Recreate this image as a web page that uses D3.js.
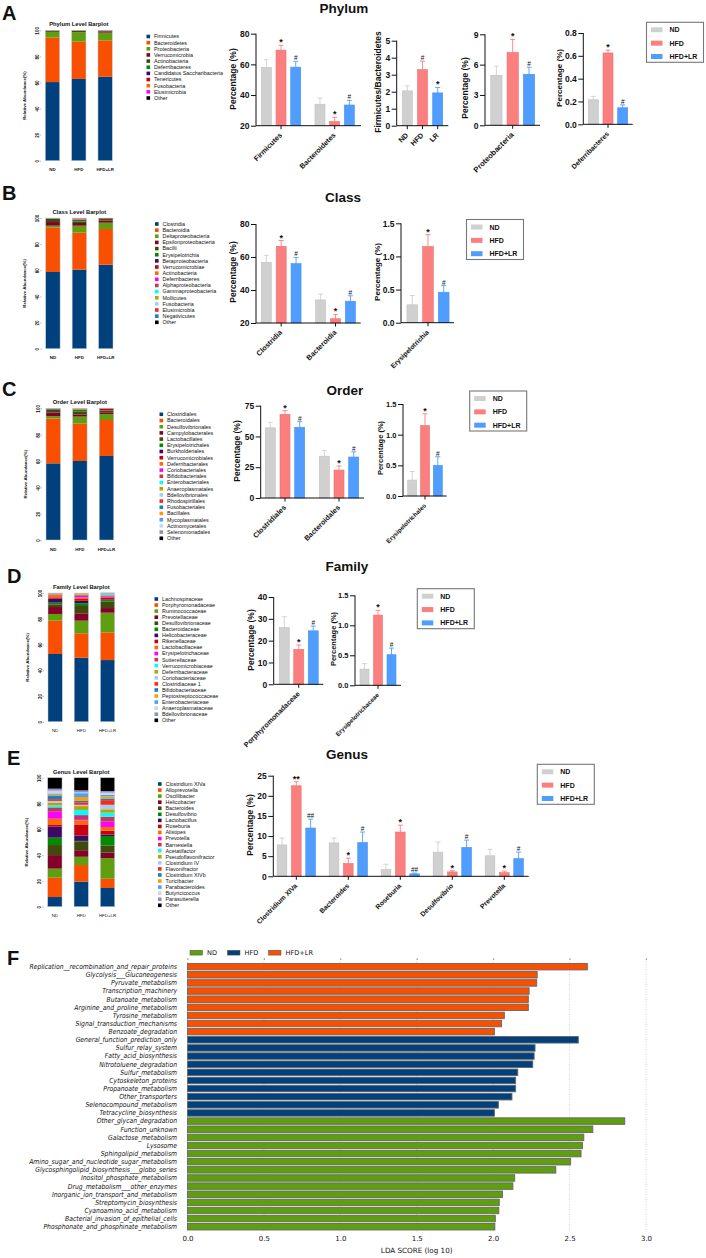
<!DOCTYPE html>
<html>
<head>
<meta charset="utf-8">
<script src="https://cdn.jsdelivr.net/npm/d3@7"></script>
<style>
  body { margin: 0; background: #fff; }
  svg { display: block; }
  text { font-family: "Liberation Sans", Arial, sans-serif; fill: #111; }
</style>
</head>
<body>
<div id="chart"></div>
<script>
const width = 706
const height = 1258

const groups = ['ND', 'HFD', 'HFD+LR']
const groupColors = ['#d0d0d0', '#fb7f7f', '#4f9eff']

// stacked barplots: one list of abundances per group, in legend order

const taxaColors = ['#00407c', '#f94f00', '#5f9e0e', '#84002b', '#414a0c', '#008a00', '#3b0a63', '#c8000f',
  '#f76d00', '#ff00ff', '#c0395e', '#00ffff', '#b8a400', '#a6cfef', '#f72a1e', '#1a7fc4', '#ff9d00',
  '#4aa0ff', '#c8d8e8', '#8f8fc0']

const phylumNames = ['Firmicutes', 'Bacteroidetes', 'Proteobacteria', 'Verrucomicrobia', 'Actinobacteria',
  'Deferribacteres', 'Candidatus Saccharibacteria', 'Tenericutes', 'Fusobacteria', 'Elusimicrobia', 'Other']
const phylumND = [60.3, 34.1, 4.3, 0.1, 0.9, 0.05, 0.05, 0.1, 0, 0, 0.1]
const phylumHFD = [62.7, 28.6, 7.2, 0.1, 1.1, 0.05, 0.05, 0.1, 0, 0, 0.1]
const phylumLR = [64.5, 27.8, 5.9, 1.0, 0.3, 0.1, 0.05, 0.15, 0, 0, 0.2]

const classNames = ['Clostridia', 'Bacteroidia', 'Deltaproteobacteria', 'Epsilonproteobacteria', 'Bacilli',
  'Erysipelotrichia', 'Betaproteobacteria', 'Verrucomicrobiae', 'Actinobacteria', 'Deferribacteres',
  'Alphaproteobacteria', 'Gammaproteobacteria', 'Mollicutes', 'Fusobacteria', 'Elusimicrobia', 'Negativicutes', 'Other']
const classND = [58.7, 33.9, 1.5, 2.8, 2.6, 0.15, 0.1, 0.05, 0.1, 0.05, 0, 0, 0.05, 0, 0, 0, 0]
const classHFD = [60.5, 28.3, 5.3, 2.1, 1.0, 1.3, 0.2, 0.1, 0.3, 0.6, 0.1, 0.1, 0.1, 0, 0, 0, 0]
const classLR = [64.3, 27.3, 4.8, 1.6, 1.2, 0.2, 0.1, 0.4, 0, 0, 0, 0, 0, 0, 0, 0, 0.1]

const orderNames = ['Clostridiales', 'Bacteroidales', 'Desulfovibrionales', 'Campylobacterales', 'Lactobacillales',
  'Erysipelotrichales', 'Burkholderiales', 'Verrucomicrobiales', 'Deferribacterales', 'Coriobacteriales',
  'Bifidobacteriales', 'Enterobacteriales', 'Anaeroplasmatales', 'Bdellovibrionales', 'Rhodospirillales',
  'Fusobacteriales', 'Bacillales', 'Mycoplasmatales', 'Actinomycetales', 'Selenomonadales', 'Other']
const orderND = [58.2, 34, 1.8, 2.7, 2.3, 0.3, 0.2, 0.1, 0.1, 0.1, 0.1, 0, 0, 0, 0, 0, 0, 0, 0, 0, 0.1]
const orderHFD = [60, 28.4, 5.3, 1.7, 2.1, 1.2, 0.2, 0.1, 0.5, 0.2, 0.1, 0.1, 0, 0, 0, 0, 0, 0, 0, 0, 0.1]
const orderLR = [63.8, 27.3, 4.6, 1.3, 1.2, 0.2, 0.1, 1.4, 0, 0, 0, 0, 0, 0, 0, 0, 0, 0, 0, 0, 0.1]

const familyNames = ['Lachnospiraceae', 'Porphyromonadaceae', 'Ruminococcaceae', 'Prevotellaceae', 'Desulfovibrionaceae',
  'Bacteroidaceae', 'Helicobacteraceae', 'Rikenellaceae', 'Lactobacillaceae', 'Erysipelotrichaceae', 'Sutterellaceae',
  'Verrucomicrobiaceae', 'Deferribacteraceae', 'Coriobacteriaceae', 'Clostridiaceae 1', 'Bifidobacteriaceae',
  'Peptostreptococcaceae', 'Enterobacteriaceae', 'Anaeroplasmataceae', 'Bdellovibrionaceae', 'Other']
const familyND = [52.6, 25.9, 5.2, 5.4, 2.1, 1.3, 3.1, 1.0, 1.8, 0.3, 0.2, 0.1, 0.2, 0.2, 0.1, 0.1, 0.1, 0.1, 0.05, 0.05, 0.1]
const familyHFD = [49.7, 19, 9.8, 5.7, 5.7, 2.1, 2, 1.3, 1.3, 1.3, 0.5, 0.3, 1.0, 0.05, 0.05, 0.05, 0.05, 0.05, 0.05, 0, 0]
const familyLR = [47.9, 21.5, 15.3, 3.6, 4.9, 1.3, 0.5, 1.6, 0.5, 0.8, 0.3, 0.8, 0.2, 0.2, 0.1, 0.1, 0.1, 0.1, 0.05, 0.05, 0.2]

const genusNames = ['Clostridium XIVa', 'Alloprevotella', 'Oscillibacter', 'Helicobacter', 'Bacteroides', 'Desulfovibrio',
  'Lactobacillus', 'Roseburia', 'Alistipes', 'Prevotella', 'Barnesiella', 'Acetatifactor', 'Pseudoflavonifractor',
  'Clostridium IV', 'Flavonifractor', 'Clostridium XIVb', 'Turicibacter', 'Parabacteroides', 'Butyricicoccus',
  'Parasutterella', 'Other']
const genusND = [7.5, 15, 7, 10.5, 7.8, 5.7, 8.5, 1.8, 4.4, 5.4, 3.4, 1.5, 1.9, 1.6, 1.4, 2.4, 1, 1, 2.2, 1.5, 8.5]
const genusHFD = [19.4, 12.9, 6.4, 5.1, 6.5, 0.7, 4.2, 8.6, 3.1, 1, 3.1, 4, 3, 1, 1.9, 1.1, 3, 3, 0.6, 1.6, 9.8]
const genusLR = [14.5, 7.2, 16, 4.2, 5.6, 7.3, 1.2, 2.9, 2.9, 4.1, 3.9, 3.1, 2.6, 3.5, 3.6, 1.3, 1.6, 1.3, 1.6, 1.3, 10.3]

// LDA scores

const ldaGroups = ['ND', 'HFD', 'HFD+LR']
const ldaColors = ['#5f9e0e', '#00407c', '#f94f00']
const ldaNamesLR = ['Replication__recombination_and_repair_proteins', 'Glycolysis___Gluconeogenesis', 'Pyruvate_metabolism',
  'Transcription_machinery', 'Butanoate_metabolism', 'Arginine_and_proline_metabolism', 'Tyrosine_metabolism',
  'Signal_transduction_mechanisms', 'Benzoate_degradation']
const ldaScoresLR = [2.616, 2.288, 2.285, 2.235, 2.23, 2.23, 2.073, 2.055, 2.008]
const ldaNamesHFD = ['General_function_prediction_only', 'Sulfur_relay_system', 'Fatty_acid_biosynthesis',
  'Nitrotoluene_degradation', 'Sulfur_metabolism', 'Cytoskeleton_proteins', 'Propanoate_metabolism', 'Other_transporters',
  'Selenocompound_metabolism', 'Tetracycline_biosynthesis']
const ldaScoresHFD = [2.557, 2.274, 2.268, 2.259, 2.161, 2.147, 2.147, 2.123, 2.034, 2.008]
const ldaNamesND = ['Other_glycan_degradation', 'Function_unknown', 'Galactose_metabolism', 'Lysosome', 'Sphingolipid_metabolism',
  'Amino_sugar_and_nucleotide_sugar_metabolism', 'Glycosphingolipid_biosynthesis___globo_series', 'Inositol_phosphate_metabolism',
  'Drug_metabolism___other_enzymes', 'Inorganic_ion_transport_and_metabolism', 'Streptomycin_biosynthesis',
  'Cyanoamino_acid_metabolism', 'Bacterial_invasion_of_epithelial_cells', 'Phosphonate_and_phosphinate_metabolism']
const ldaScoresND = [2.861, 2.652, 2.593, 2.584, 2.575, 2.507, 2.41, 2.141, 2.129, 2.061, 2.04, 2.037, 2.014, 2.011]

const svg = d3
  .select('#chart')
  .append('svg')
  .attr('width', width)
  .attr('height', height)

// headings and panel letters

const headings = [['Phylum', 344, 13], ['Class', 343, 202], ['Order', 345, 395], ['Family', 347, 571], ['Genus', 347, 759]]
svg
  .selectAll('.heading')
  .data(headings)
  .enter()
  .append('text')
  .attr('class', 'heading')
  .attr('x', d => d[1])
  .attr('y', d => d[2])
  .attr('text-anchor', 'middle')
  .attr('font-weight', 'bold')
  .attr('font-size', 13.5)
  .text(d => d[0])

const letters = [['A', 2, 20], ['B', 2, 200], ['C', 2, 396], ['D', 7, 583], ['E', 7, 765], ['F', 7, 965]]
svg
  .selectAll('.letter')
  .data(letters)
  .enter()
  .append('text')
  .attr('class', 'letter')
  .attr('x', d => d[1])
  .attr('y', d => d[2])
  .attr('font-weight', 'bold')
  .attr('font-size', 20)
  .text(d => d[0])

function stackedPlot(o) {
  const rows = groups.map((g, i) => {
    const row = { group: g }
    o.names.forEach((n, j) => {
      row[n] = o.values[i][j]
    })
    return row
  })

  const xScale = d3
    .scaleBand()
    .domain(groups)
    .range(o.xRange)
    .paddingInner(0.456)

  const yScale = d3
    .scaleLinear()
    .domain([0, 100])
    .range(o.yRange)

  const colorScale = d3
    .scaleOrdinal()
    .domain(o.names)
    .range(o.names.map((n, i) => (n === 'Other' ? '#000' : taxaColors[i])))

  const layers = d3.stack().keys(o.names)(rows)

  const g = svg.append('g')

  g.selectAll('.layer')
    .data(layers)
    .enter()
    .append('g')
    .attr('fill', d => colorScale(d.key))
    .selectAll('rect')
    .data(d => d)
    .enter()
    .append('rect')
    .attr('x', d => xScale(d.data.group))
    .attr('y', d => yScale(d[1]))
    .attr('width', xScale.bandwidth())
    .attr('height', d => yScale(d[0]) - yScale(d[1]))

  g.selectAll('.outline')
    .data(groups)
    .enter()
    .append('rect')
    .attr('x', d => xScale(d))
    .attr('y', o.yRange[1])
    .attr('width', xScale.bandwidth())
    .attr('height', o.yRange[0] - o.yRange[1])
    .attr('fill', 'none')
    .attr('stroke', '#c4ccd6')
    .attr('stroke-width', 0.5)

  const yAxis = g
    .append('g')
    .attr('transform', 'translate(' + (o.xRange[0] - 4) + ',0)')
    .call(d3.axisLeft(yScale).tickValues([0, 20, 40, 60, 80, 100]).tickSize(1.5).tickPadding(1))

  yAxis.select('.domain').remove()
  yAxis.selectAll('line').attr('stroke', '#555').attr('stroke-width', 0.4)
  yAxis
    .selectAll('text')
    .attr('transform', 'rotate(-90)')
    .attr('x', 0)
    .attr('y', -2.5)
    .attr('dy', 0)
    .attr('text-anchor', 'middle')
    .attr('font-size', 4.6)
    .attr('font-weight', 'bold')
    .attr('font-family', '"Liberation Sans"')

  g.append('text')
    .attr('transform', 'translate(' + (o.xRange[0] - 19.5) + ',' + (o.yRange[0] + o.yRange[1]) / 2 + ') rotate(-90)')
    .attr('text-anchor', 'middle')
    .attr('font-size', 4.4)
    .attr('font-weight', 'bold')
    .attr('fill', '#333')
    .text('Relative Abundance(%)')

  g.append('text')
    .attr('x', (o.xRange[0] + o.xRange[1]) / 2)
    .attr('y', o.yRange[1] - 4)
    .attr('text-anchor', 'middle')
    .attr('font-size', 5.8)
    .attr('font-weight', 'bold')
    .attr('fill', '#222')
    .text(o.title)

  g.selectAll('.group-label')
    .data(groups)
    .enter()
    .append('text')
    .attr('x', d => xScale(d) + xScale.bandwidth() / 2)
    .attr('y', o.yRange[0] + 10.5)
    .attr('text-anchor', 'middle')
    .attr('font-size', 4.4)
    .attr('font-weight', o.plainGroups ? 'normal' : 'bold')
    .attr('fill', '#222')
    .text(d => d)

  // legend

  const legendScale = d3
    .scalePoint()
    .domain(o.names)
    .range(o.legendY)

  const legend = g
    .selectAll('.taxon')
    .data(o.names)
    .enter()
    .append('g')
    .attr('transform', d => 'translate(' + o.legendX + ',' + legendScale(d) + ')')

  legend
    .append('rect')
    .attr('x', 0)
    .attr('y', -1.8)
    .attr('width', 3.6)
    .attr('height', 3.6)
    .attr('fill', d => colorScale(d))

  legend
    .append('text')
    .attr('x', 7.5)
    .attr('y', 1.9)
    .attr('font-size', 5.4)
    .attr('fill', '#333')
    .text(d => d)
}

function barPlot(o) {
  const step = o.step
  const barWidth = o.barWidth || 10

  const xScale = d3
    .scaleBand()
    .domain(o.cats)
    .range(o.bandRange)

  const subScale = d3
    .scaleBand()
    .domain(groups)
    .range([-step * 1.5, step * 1.5])

  const yScale = d3
    .scaleLinear()
    .domain(o.domain)
    .range(o.yRange)

  const g = svg.append('g')

  o.cats.forEach((cat, i) => {
    const cx = xScale(cat) + xScale.bandwidth() / 2

    groups.forEach((grp, j) => {
      const barX = cx + subScale(grp) + subScale.bandwidth() / 2
      const color = groupColors[j]

      g.append('line')
        .attr('x1', barX)
        .attr('x2', barX)
        .attr('y1', yScale(o.means[i][j]))
        .attr('y2', yScale(o.tops[i][j]))
        .attr('stroke', color)
        .attr('stroke-width', 0.9)

      g.append('line')
        .attr('x1', barX - 2.5)
        .attr('x2', barX + 2.5)
        .attr('y1', yScale(o.tops[i][j]))
        .attr('y2', yScale(o.tops[i][j]))
        .attr('stroke', color)
        .attr('stroke-width', 0.9)

      g.append('rect')
        .attr('x', barX - barWidth / 2)
        .attr('y', yScale(o.means[i][j]))
        .attr('width', barWidth)
        .attr('height', yScale(o.domain[0]) - yScale(o.means[i][j]))
        .attr('fill', color)
        .attr('stroke', j === 0 ? '#c2c2c2' : d3.color(color).darker(0.25))
        .attr('stroke-width', 0.6)

      const mark = o.marks[i][j]
      if (mark) {
        const isStar = mark.indexOf('*') >= 0
        g.append('text')
          .attr('x', barX)
          .attr('y', yScale(o.tops[i][j]) + (isStar ? 0 : -1))
          .attr('text-anchor', 'middle')
          .attr('font-size', isStar ? 9 : 6.5)
          .attr('font-weight', isStar ? 'bold' : 'normal')
          .attr('fill', isStar ? '#111' : '#555')
          .text(mark)
      }
    })
  })

  const yAxis = g
    .append('g')
    .attr('transform', 'translate(' + o.axisX + ',0)')
    .call(d3.axisLeft(yScale).tickValues(o.ticks).tickFormat(d3.format(o.format || 'd')).tickSize(5).tickPadding(1.5))

  yAxis.selectAll('text').attr('font-size', o.tickSize || 8.5).attr('font-weight', 'bold').attr('font-family', '"Liberation Sans"')
  yAxis.selectAll('.domain').attr('stroke', '#111').attr('stroke-width', 1).attr('d', 'M0,' + o.yRange[0] + 'V' + o.yRange[1])
  yAxis.selectAll('line').attr('stroke', '#111').attr('stroke-width', 1)

  g.append('line')
    .attr('x1', o.axisX)
    .attr('x2', o.axisEnd)
    .attr('y1', o.yRange[0])
    .attr('y2', o.yRange[0])
    .attr('stroke', '#111')
    .attr('stroke-width', 1)

  // x ticks and slanted names, one per category or one per bar when barLabels is given

  const labels = o.barLabels
    ? o.barLabels.map((name, j) => [name, xScale(o.cats[0]) + xScale.bandwidth() / 2 + subScale(groups[j]) + subScale.bandwidth() / 2])
    : o.cats.map(cat => [cat, xScale(cat) + xScale.bandwidth() / 2])

  labels.forEach(l => {
    g.append('line')
      .attr('x1', l[1])
      .attr('x2', l[1])
      .attr('y1', o.yRange[0])
      .attr('y2', o.yRange[0] + 3.5)
      .attr('stroke', '#111')
      .attr('stroke-width', 1)

    g.append('text')
      .attr('transform', 'translate(' + (l[1] + 1.5) + ',' + (o.yRange[0] + 10) + ') rotate(-45)')
      .attr('text-anchor', 'end')
      .attr('font-size', o.labelSize || 7.2)
      .attr('font-weight', 'bold')
      .text(l[0])
  })

  g.append('text')
    .attr('transform', 'translate(' + o.labelX + ',' + o.labelY + ') rotate(-90)')
    .attr('text-anchor', 'middle')
    .attr('font-size', o.ySize || 8.5)
    .attr('font-weight', 'bold')
    .text(o.yLabel || 'Percentage (%)')
}

function groupLegend(x, y) {
  const g = svg.append('g').attr('transform', 'translate(' + x + ',' + y + ')')

  g.append('rect')
    .attr('width', 57)
    .attr('height', 40)
    .attr('fill', '#fff')
    .attr('stroke', '#777')
    .attr('stroke-width', 1.1)

  const rowScale = d3
    .scalePoint()
    .domain(groups)
    .range([7.5, 34.2])

  groups.forEach((grp, j) => {
    g.append('rect')
      .attr('x', 4.5)
      .attr('y', rowScale(grp) - 2.5)
      .attr('width', 11.5)
      .attr('height', 5)
      .attr('fill', groupColors[j])

    g.append('text')
      .attr('x', 23)
      .attr('y', rowScale(grp) + 2.5)
      .attr('font-size', 7)
      .attr('font-weight', 'bold')
      .text(grp)
  })
}

// A

stackedPlot({
  title: 'Phylum Level Barplot', names: phylumNames, values: [phylumND, phylumHFD, phylumLR],
  xRange: [45.3, 112.3], yRange: [160.7, 30.3], legendX: 146.5, legendY: [36.5, 98]
})

barPlot({
  cats: ['Firmicutes', 'Bacteroidetes'],
  means: [[58, 69.3, 58.2], [34, 22.7, 33.5]],
  tops: [[63, 72.5, 62], [38, 25.5, 36.5]],
  marks: [['', '*', '#'], ['', '*', '#']],
  domain: [20, 80], ticks: [20, 40, 60, 80], yRange: [125.7, 33.7],
  axisX: 256, axisEnd: 361, bandRange: [254.2, 361.5], step: 14.7, labelX: 236, labelY: 79
})

barPlot({
  cats: ['F/B'], barLabels: ['ND', 'HFD', 'LR'],
  means: [[2.05, 3.3, 1.93]],
  tops: [[2.35, 3.8, 2.25]],
  marks: [['', '#', '*']],
  domain: [0, 5], ticks: [0, 1, 2, 3, 4, 5], yRange: [125.7, 40.7],
  axisX: 396.7, axisEnd: 448.3, bandRange: [397, 448], step: 15.2, yLabel: 'Firmicutes/Bacteroidetes',
  labelX: 381, labelY: 82
})

barPlot({
  cats: ['Proteobacteria'],
  means: [[4.95, 7.2, 5.05]],
  tops: [[5.85, 8.5, 5.75]],
  marks: [['', '*', '#']],
  domain: [0, 9], ticks: [0, 3, 6, 9], yRange: [125.3, 34.3],
  axisX: 485, axisEnd: 540, bandRange: [485, 540.4], step: 16.3, barWidth: 11.3, labelX: 468, labelY: 88,
  labelSize: 7.6
})

barPlot({
  cats: ['Deferribacteres'],
  means: [[0.215, 0.625, 0.145]],
  tops: [[0.245, 0.65, 0.17]],
  marks: [['', '*', '#']],
  domain: [0, 0.8], ticks: [0, 0.2, 0.4, 0.6, 0.8], format: '.1f', yRange: [124.3, 33],
  axisX: 583.3, axisEnd: 632.7, bandRange: [583.3, 632.7], step: 14.7, labelX: 562, labelY: 78,
  labelSize: 6.8, ySize: 8
})

groupLegend(646.5, 22.3)

// B

stackedPlot({
  title: 'Class Level Barplot', names: classNames, values: [classND, classHFD, classLR],
  xRange: [45.7, 113], yRange: [348.7, 218], legendX: 155, legendY: [224, 322.3]
})

barPlot({
  cats: ['Clostridia', 'Bacteroidia'],
  means: [[56.8, 66.5, 56], [34, 22.6, 33.2]],
  tops: [[61, 70, 59.7], [37.5, 25.2, 36.5]],
  marks: [['', '*', '#'], ['', '*', '#']],
  domain: [20, 80], ticks: [20, 40, 60, 80], yRange: [323, 224],
  axisX: 256, axisEnd: 360.7, bandRange: [254, 362.7], step: 14.9, labelX: 236, labelY: 272
})

barPlot({
  cats: ['Erysipelotrichia'],
  means: [[0.27, 1.15, 0.46]],
  tops: [[0.41, 1.33, 0.56]],
  marks: [['', '*', '#']],
  domain: [0, 1.5], ticks: [0, 0.5, 1, 1.5], format: '.1f', yRange: [322.7, 223.3],
  axisX: 401, axisEnd: 454, bandRange: [401, 455], step: 15.7, barWidth: 10.7, labelX: 380, labelY: 272,
  labelSize: 6.8, ySize: 8
})

groupLegend(466.5, 219.5)

// C

stackedPlot({
  title: 'Order Level Barplot', names: orderNames, values: [orderND, orderHFD, orderLR],
  xRange: [46, 113.7], yRange: [540, 408.3], legendX: 159.5, legendY: [414.3, 538.3]
})

barPlot({
  cats: ['Clostridiales', 'Bacteroidales'],
  means: [[57, 68, 57.5], [34, 22.7, 33.3]],
  tops: [[61.5, 71, 62], [38.5, 26, 37.5]],
  marks: [['', '*', '#'], ['', '*', '#']],
  domain: [0, 75], ticks: [0, 25, 50, 75], yRange: [498, 405.7],
  axisX: 260.7, axisEnd: 364, bandRange: [258, 366], step: 14.7, labelX: 240, labelY: 451
})

barPlot({
  cats: ['Erysipelotrichales'],
  means: [[0.26, 1.15, 0.5]],
  tops: [[0.4, 1.34, 0.64]],
  marks: [['', '*', '#']],
  domain: [0, 1.5], ticks: [0, 0.5, 1, 1.5], format: '.1f', yRange: [496, 404],
  axisX: 403, axisEnd: 446.7, bandRange: [403, 447], step: 12.8, barWidth: 9, labelX: 383, labelY: 448,
  labelSize: 6.2, tickSize: 7.5, ySize: 7.5
})

groupLegend(469.7, 391)

// D

stackedPlot({
  title: 'Family Level Barplot', names: familyNames, values: [familyND, familyHFD, familyLR],
  xRange: [48, 114.7], yRange: [721.7, 593], legendX: 154.5, legendY: [599, 720.3], plainGroups: true
})

barPlot({
  cats: ['Porphyromonadaceae'],
  means: [[26, 16, 24.5]],
  tops: [[31, 18, 26.7]],
  marks: [['', '*', '#']],
  domain: [0, 40], ticks: [0, 10, 20, 30, 40], yRange: [684.3, 597],
  axisX: 273.7, axisEnd: 323.3, bandRange: [274, 323.5], step: 14.5, labelX: 254, labelY: 640
})

barPlot({
  cats: ['Erysipelotrichaceae'],
  means: [[0.27, 1.17, 0.51]],
  tops: [[0.36, 1.25, 0.62]],
  marks: [['', '*', '#']],
  domain: [0, 1.5], ticks: [0, 0.5, 1, 1.5], format: '.1f', yRange: [685.3, 595.3],
  axisX: 355, axisEnd: 401, bandRange: [355, 401], step: 13.5, barWidth: 9, labelX: 336, labelY: 639,
  labelSize: 6.2, tickSize: 7.5, ySize: 7.5
})

groupLegend(417.3, 588.7)

// E

stackedPlot({
  title: 'Genus Level Barplot', names: genusNames, values: [genusND, genusHFD, genusLR],
  xRange: [47.7, 114.7], yRange: [906.7, 777.7], legendX: 158, legendY: [784, 905.3], plainGroups: true
})

barPlot({
  cats: ['Clostridium XIVa', 'Bacteroides', 'Roseburia', 'Desulfovibrio', 'Prevotella'],
  means: [[7.8, 22.5, 12], [8.3, 3.2, 8.4], [1.7, 11, 0.6], [6, 1.1, 7.2], [5.1, 0.9, 4.4]],
  tops: [[9.5, 23.5, 14.2], [9.5, 4.5, 11], [3, 12.7, 0.8], [8.5, 1.4, 9], [6.7, 1.3, 6]],
  marks: [['', '**', '##'], ['', '*', '#'], ['', '*', '##'], ['', '*', '#'], ['', '*', '#']],
  domain: [0, 25], ticks: [0, 5, 10, 15, 20, 25], yRange: [876.3, 775.7],
  axisX: 273.3, axisEnd: 528.7, bandRange: [270.3, 530.3], step: 14.3, barWidth: 9.7, labelX: 253, labelY: 825,
  labelSize: 6.8
})

groupLegend(537.3, 764.3)

// F

const ldaNames = ldaNamesLR.concat(ldaNamesHFD, ldaNamesND)
const ldaScores = ldaScoresLR.concat(ldaScoresHFD, ldaScoresND)
const ldaOwner = ldaNamesLR.map(() => 'HFD+LR')
  .concat(ldaNamesHFD.map(() => 'HFD'), ldaNamesND.map(() => 'ND'))

const ldaX = d3
  .scaleLinear()
  .domain([0, 3])
  .range([187.5, 646])

const ldaY = d3
  .scaleBand()
  .domain(ldaNames)
  .range([962.6, 1230.8])
  .paddingInner(0.2)
  .paddingOuter(0.1)

const ldaColor = d3
  .scaleOrdinal()
  .domain(ldaGroups)
  .range(ldaColors)

const lda = svg.append('g')

lda
  .selectAll('.grid')
  .data(ldaX.ticks(6))
  .enter()
  .append('line')
  .attr('x1', d => ldaX(d))
  .attr('x2', d => ldaX(d))
  .attr('y1', 959)
  .attr('y2', 1232)
  .attr('stroke', '#aaa')
  .attr('stroke-width', 0.5)
  .attr('stroke-dasharray', '1,1.5')

lda
  .selectAll('.bar')
  .data(ldaNames)
  .enter()
  .append('rect')
  .attr('x', ldaX(0))
  .attr('y', d => ldaY(d))
  .attr('width', (d, i) => ldaX(ldaScores[i]) - ldaX(0))
  .attr('height', ldaY.bandwidth())
  .attr('fill', (d, i) => ldaColor(ldaOwner[i]))
  .attr('stroke', '#666')
  .attr('stroke-width', 0.9)

lda
  .selectAll('.name')
  .data(ldaNames)
  .enter()
  .append('text')
  .attr('transform', d => 'translate(177,' + (ldaY(d) + ldaY.bandwidth() / 2 + 2.4) + ') scale(0.87,1)')
  .attr('text-anchor', 'end')
  .attr('font-size', 7)
  .attr('font-style', 'italic')
  .attr('fill', '#333')
  .style('font-family', '"DejaVu Sans"')
  .text(d => d)

const ldaAxis = lda
  .append('g')
  .attr('transform', 'translate(0,1232)')
  .call(d3.axisBottom(ldaX).ticks(6).tickFormat(d3.format('.1f')).tickSize(0).tickPadding(4))

ldaAxis.select('.domain').remove()
ldaAxis
  .selectAll('text')
  .attr('font-size', 7)
  .attr('fill', '#333')
  .style('font-family', '"DejaVu Sans"')

const ldaTopTicks = lda
  .append('g')
  .attr('transform', 'translate(0,960)')
  .call(d3.axisTop(ldaX).ticks(6).tickFormat('').tickSize(2))

ldaTopTicks.select('.domain').remove()
ldaTopTicks.selectAll('line').attr('stroke', '#555').attr('stroke-width', 0.5)

lda
  .append('text')
  .attr('transform', 'translate(416.7,1253)')
  .attr('text-anchor', 'middle')
  .attr('font-size', 7.2)
  .attr('fill', '#333')
  .style('font-family', '"DejaVu Sans"')
  .text('LDA SCORE (log 10)')

const ldaLegendX = d3
  .scaleOrdinal()
  .domain(ldaGroups)
  .range([190, 227.5, 268.5])

const ldaLegend = lda
  .selectAll('.key')
  .data(ldaGroups)
  .enter()
  .append('g')
  .attr('transform', d => 'translate(' + ldaLegendX(d) + ',952.7)')

ldaLegend
  .append('rect')
  .attr('y', -2.4)
  .attr('width', 12.5)
  .attr('height', 4.8)
  .attr('fill', d => ldaColor(d))
  .attr('stroke', '#555')
  .attr('stroke-width', 0.5)

ldaLegend
  .append('text')
  .attr('x', 17)
  .attr('y', 2.4)
  .attr('font-size', 6.6)
  .attr('fill', '#333')
  .style('font-family', '"DejaVu Sans"')
  .text(d => d)
</script>
</body>
</html>
